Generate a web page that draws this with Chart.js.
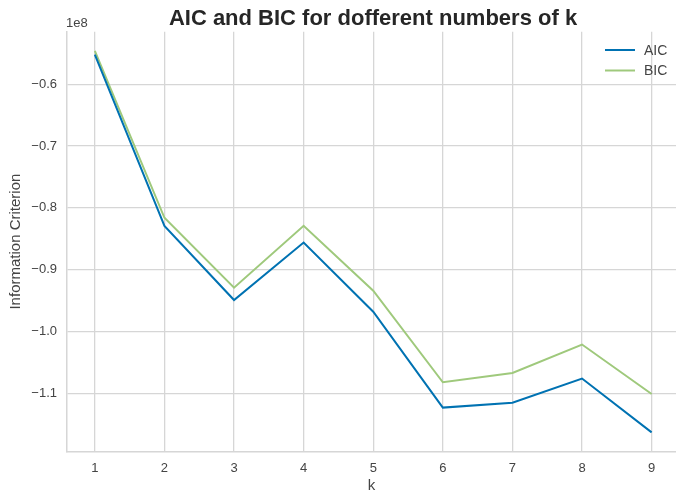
<!DOCTYPE html>
<html>
<head>
<meta charset="utf-8">
<script src="https://cdn.jsdelivr.net/npm/chart.js@4/dist/chart.umd.min.js"></script>
<style>
  html, body { margin: 0; padding: 0; background: #fff; overflow: hidden; }
  #wrap { width: 676px; height: 492px; }
</style>
</head>
<body>
<div id="wrap"><canvas id="chart" width="676" height="492"></canvas></div>
<script>
'use strict'

let ks = [1, 2, 3, 4, 5, 6, 7, 8, 9],
    aic = [-55200000, -82900000, -94900000, -85600000, -96800000, -112300000, -111500000, -107600000, -116300000],
    bic = [-54600000, -81600000, -92900000, -82900000, -93400000, -108200000, -106700000, -102100000, -110100000],
    yTicks = [-60000000, -70000000, -80000000, -90000000, -100000000, -110000000],
    titleText = 'AIC and BIC for dofferent numbers of k',
    fontName = '"Liberation Sans", Arial, sans-serif'

function fmt(v) {
    let s = (v / 1e8).toFixed(1)
    return s.replace('-', '\u2212')
}

// title, offset text and legend drawn inside the plot like matplotlib
let extras = {
    id: 'extras',
    afterDraw(chart) {
        let ctx = chart.ctx, area = chart.chartArea
        ctx.save()
        ctx.fillStyle = '#262626'
        ctx.font = 'bold 22px ' + fontName
        ctx.textAlign = 'center'
        ctx.textBaseline = 'alphabetic'
        ctx.fillText(titleText, 373, 25)

        ctx.fillStyle = '#444'
        ctx.font = '13px ' + fontName
        ctx.textAlign = 'left'
        ctx.fillText('1e8', area.left - 1, 27)

        chart.data.datasets.forEach((ds, i) => {
            let y = 50 + i * 20.5
            ctx.strokeStyle = ds.borderColor
            ctx.lineWidth = 2
            ctx.beginPath()
            ctx.moveTo(605, y)
            ctx.lineTo(635, y)
            ctx.stroke()
            ctx.fillStyle = '#444'
            ctx.font = '14px ' + fontName
            ctx.textBaseline = 'middle'
            ctx.fillText(ds.label, 644, y + 1)
        })
        ctx.restore()
    }
}

let data = {
    labels: ks,
    datasets: [{
        label: 'AIC',
        data: ks.map((k, i) => ({x: k, y: aic[i]})),
        borderColor: '#0072B2',
        borderWidth: 2,
        pointRadius: 0,
        tension: 0
    }, {
        label: 'BIC',
        data: ks.map((k, i) => ({x: k, y: bic[i]})),
        borderColor: '#9fc97c',
        borderWidth: 2,
        pointRadius: 0,
        tension: 0
    }]
}

let config = {
    type: 'line',
    data: data,
    options: {
        responsive: false,
        animation: false,
        layout: {padding: {top: 31.7, right: 0, left: 0, bottom: 0}},
        plugins: {
            legend: {display: false},
            title: {display: false},
            tooltip: {enabled: false}
        },
        scales: {
            x: {
                type: 'linear',
                min: 0.6,
                max: 9.35,
                afterFit: scale => { scale.height = 40.5 },
                afterBuildTicks: scale => { scale.ticks = ks.map(v => ({value: v})) },
                grid: {color: '#d6d6d6', lineWidth: 1.3, drawTicks: false},
                border: {color: '#d6d6d6', width: 1.5},
                ticks: {
                    color: '#444',
                    padding: 9,
                    font: {family: fontName, size: 13},
                    callback: v => String(v)
                },
                title: {
                    display: true,
                    text: 'k',
                    color: '#444',
                    padding: 0,
                    font: {family: fontName, size: 15, lineHeight: 0.8}
                }
            },
            y: {
                type: 'linear',
                min: -119400000,
                max: -51500000,
                afterFit: scale => { scale.width = 67 },
                afterBuildTicks: scale => { scale.ticks = yTicks.map(v => ({value: v})) },
                grid: {color: '#d6d6d6', lineWidth: 1.3, drawTicks: false},
                border: {color: '#d6d6d6', width: 1.5},
                ticks: {
                    color: '#444',
                    padding: 10,
                    font: {family: fontName, size: 13},
                    callback: v => fmt(v)
                },
                title: {
                    display: true,
                    text: 'Information Criterion',
                    color: '#444',
                    padding: 7,
                    font: {family: fontName, size: 15}
                }
            }
        }
    },
    plugins: [extras]
}

let myChart = new Chart(document.getElementById('chart'), config)
</script>
</body>
</html>
